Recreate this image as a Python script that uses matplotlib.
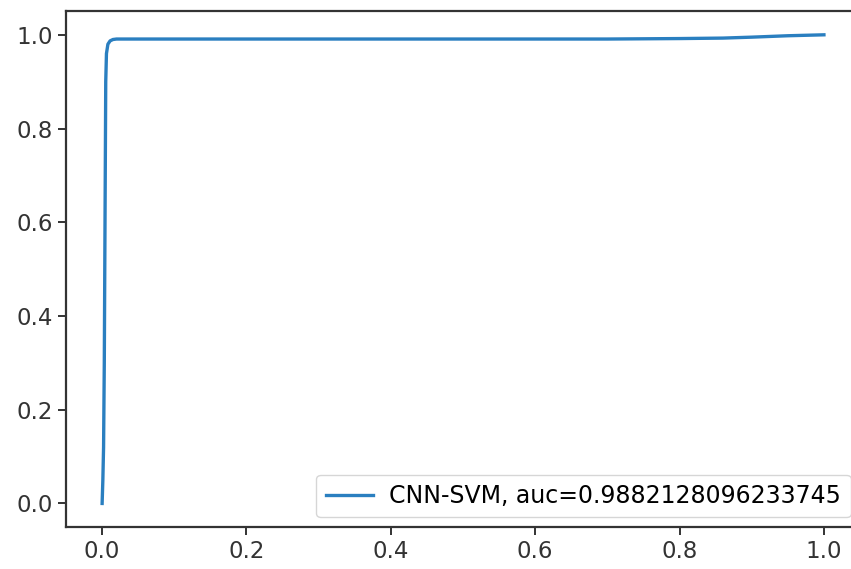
import matplotlib.pyplot as plt

# ROC curve points
fpr = [0.0, 0.001, 0.002, 0.003, 0.004, 0.005, 0.006, 0.008, 0.011, 0.015,
       0.02, 0.1, 0.3, 0.5, 0.7, 0.8, 0.86, 0.9, 0.95, 1.0]
tpr = [0.0, 0.05, 0.12, 0.3, 0.6, 0.9, 0.96, 0.98, 0.987, 0.99,
       0.991, 0.991, 0.991, 0.991, 0.991, 0.992, 0.993, 0.995, 0.998, 1.0]
auc = 0.9882128096233745
label = "CNN-SVM, auc=" + str(auc)


def main():
    fig = plt.figure(figsize=(8.51, 5.69), dpi=100)
    # the reference is cropped on the right, so the axes run past the edge
    ax = fig.add_axes([0.0776, 0.074, 0.933, 0.906])
    ax.plot(fpr, tpr, color="#2a7fc0", lw=2.4, label=label)
    ax.legend(loc=4, fontsize=17, handlelength=2.0, handletextpad=0.7,
              borderaxespad=0.4)

    ax.tick_params(labelsize=16.5, length=6, width=1.4, colors="#333333")
    for s in ax.spines.values():
        s.set_linewidth(1.6)
        s.set_color("#333333")

    fig.savefig("out.png", dpi=100)


if __name__ == "__main__":
    main()
